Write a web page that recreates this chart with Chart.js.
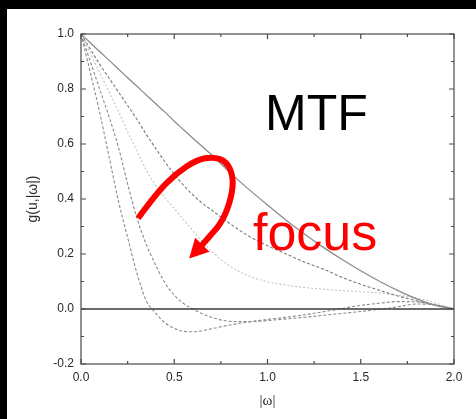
<!DOCTYPE html>
<html><head><meta charset="utf-8">
<script src="https://cdn.jsdelivr.net/npm/chart.js@4/dist/chart.umd.min.js"></script>
<style>
html,body{margin:0;padding:0;background:#000;width:476px;height:419px;overflow:hidden}
#wrap{position:absolute;left:7px;top:9px;width:469px;height:410px;background:#fff}
canvas{display:block}
</style></head>
<body><div id="wrap"><canvas id="c" width="469" height="410"></canvas></div>
<script>
// ---- data ----
const omega = [0,0.05,0.1,0.15,0.2,0.25,0.3,0.35,0.4,0.45,0.5,0.55,0.6,0.65,0.7,0.8,0.9,1.0,1.1,1.2,1.3,1.4,1.5,1.6,1.7,1.8,1.9,2.0];
const inFocus  = [1,0.968,0.936,0.905,0.873,0.841,0.810,0.778,0.747,0.716,0.683,0.652,0.621,0.591,0.561,0.495,0.435,0.378,0.323,0.272,0.224,0.18,0.139,0.101,0.067,0.037,0.013,0];
const defocus1 = [1,0.945,0.89,0.84,0.79,0.74,0.69,0.635,0.585,0.535,0.49,0.45,0.415,0.385,0.36,0.31,0.265,0.23,0.2,0.17,0.145,0.115,0.09,0.068,0.047,0.03,0.014,0];
const defocus2 = [1,0.93,0.86,0.79,0.72,0.645,0.575,0.505,0.45,0.405,0.365,0.325,0.285,0.245,0.21,0.155,0.12,0.099,0.087,0.078,0.072,0.067,0.063,0.058,0.05,0.04,0.022,0];
const defocus3 = [1,0.9,0.8,0.7,0.59,0.455,0.33,0.235,0.16,0.095,0.05,0.02,0,-0.017,-0.03,-0.045,-0.046,-0.042,-0.036,-0.03,-0.023,-0.016,-0.009,-0.001,0.008,0.018,0.015,0];
const defocus4 = [1,0.86,0.715,0.555,0.395,0.26,0.13,0.03,-0.015,-0.05,-0.07,-0.081,-0.083,-0.079,-0.072,-0.058,-0.047,-0.038,-0.03,-0.021,-0.01,0.002,0.013,0.021,0.027,0.026,0.015,0];
const zeroX = [0,2];
const zeroY = [0,0];
const xMajorTicks = [0,0.5,1.0,1.5,2.0];
const xMinorTicks = [0.25,0.75,1.25,1.75];
const yMajorTicks = [-0.2,0,0.2,0.4,0.6,0.8,1.0];
const yMinorTicks = [-0.1,0.1,0.3,0.5,0.7,0.9];
// annotation arrow path in data units (omega, g)
const arrowX = [0.306,0.405,0.512,0.620,0.709,0.781,0.817,0.808,0.763,0.692];
const arrowY = [0.330,0.421,0.494,0.542,0.554,0.536,0.481,0.409,0.324,0.263];
const arrowTip = [0.580,0.184];

const pts = (xs, ys) => xs.map((x,i)=>({x, y: ys[i]}));
const fmt = v => (Math.abs(v) < 1e-9 ? 0 : v).toFixed(1);

const frameAndNotes = {
  id:'frameAndNotes',
  afterDraw(chart){
    const {ctx, chartArea:a, scales:{x, y}} = chart;
    ctx.save();
    ctx.strokeStyle = '#4a4a4a'; ctx.lineWidth = 1.2;
    ctx.strokeRect(a.left, a.top, a.right-a.left, a.bottom-a.top);
    ctx.beginPath();
    const tx = (v,len)=>{const p=x.getPixelForValue(v); ctx.moveTo(p,a.bottom); ctx.lineTo(p,a.bottom-len); ctx.moveTo(p,a.top); ctx.lineTo(p,a.top+len);};
    const ty = (v,len)=>{const p=y.getPixelForValue(v); ctx.moveTo(a.left,p); ctx.lineTo(a.left+len,p); ctx.moveTo(a.right,p); ctx.lineTo(a.right-len,p);};
    xMajorTicks.forEach(v=>tx(v,5)); xMinorTicks.forEach(v=>tx(v,3));
    yMajorTicks.forEach(v=>ty(v,5)); yMinorTicks.forEach(v=>ty(v,3));
    ctx.stroke();
    // red arrow
    const P = arrowX.map((v,i)=>[x.getPixelForValue(v), y.getPixelForValue(arrowY[i])]);
    ctx.strokeStyle = '#ff0000'; ctx.fillStyle = '#ff0000';
    ctx.lineWidth = 6; ctx.lineCap = 'butt'; ctx.lineJoin = 'round';
    ctx.beginPath();
    ctx.moveTo(P[0][0], P[0][1]);
    for (let i=1;i<P.length-1;i++){
      const mx=(P[i][0]+P[i+1][0])/2, my=(P[i][1]+P[i+1][1])/2;
      ctx.quadraticCurveTo(P[i][0], P[i][1], mx, my);
    }
    const tip = [x.getPixelForValue(arrowTip[0]), y.getPixelForValue(arrowTip[1])];
    const last = P[P.length-1];
    let dx = tip[0]-last[0], dy = tip[1]-last[1]; const L = Math.hypot(dx,dy); dx/=L; dy/=L;
    const base = [tip[0]-19*dx, tip[1]-19*dy];
    ctx.lineTo(base[0]+2*dx, base[1]+2*dy);
    ctx.stroke();
    ctx.beginPath();
    ctx.moveTo(tip[0], tip[1]);
    ctx.lineTo(base[0]+10*dy, base[1]-10*dx);
    ctx.lineTo(base[0]-10*dy, base[1]+10*dx);
    ctx.closePath(); ctx.fill();
    // text notes
    ctx.textBaseline = 'alphabetic'; ctx.textAlign = 'left';
    ctx.fillStyle = '#000';
    ctx.font = '50px "Liberation Sans", Arial, sans-serif';
    ctx.fillText('MTF', x.getPixelForValue(0.987), y.getPixelForValue(0.651));
    ctx.fillStyle = '#ff0000';
    ctx.font = '52px "Liberation Sans", Arial, sans-serif';
    ctx.fillText('focus', x.getPixelForValue(0.922), y.getPixelForValue(0.215));
    ctx.restore();
  }
};

const tickFont = {family:'"Liberation Sans", Arial, sans-serif', size:12};
const lineBase = {pointRadius:0, cubicInterpolationMode:'monotone'};
new Chart(document.getElementById('c'), {
  type:'line',
  data:{datasets:[
    {data:pts(zeroX,zeroY), borderColor:'#3a3a3a', borderWidth:1.6, pointRadius:0, tension:0},
    {...lineBase, data:pts(omega,inFocus), borderColor:'#8c8c8c', borderWidth:1.3},
    {...lineBase, data:pts(omega,defocus1), borderColor:'#7a7a7a', borderWidth:1.1, borderDash:[3,2]},
    {...lineBase, data:pts(omega,defocus2), borderColor:'#c4c4c4', borderWidth:1.1, borderDash:[2,2]},
    {...lineBase, data:pts(omega,defocus3), borderColor:'#8a8a8a', borderWidth:1.1, borderDash:[3,2]},
    {...lineBase, data:pts(omega,defocus4), borderColor:'#8a8a8a', borderWidth:1.1, borderDash:[3,2]}
  ]},
  options:{
    responsive:false, animation:false,
    layout:{padding:{left:0,right:22,top:25,bottom:0}},
    plugins:{legend:{display:false}, tooltip:{enabled:false}},
    scales:{
      x:{type:'linear', min:0, max:2,
        grid:{display:false, drawTicks:false}, border:{display:false},
        ticks:{stepSize:0.5, padding:6, color:'#2a2a2a', font:tickFont, maxRotation:0, callback:fmt},
        title:{display:true, text:'|ω|', color:'#2a2a2a', font:{family:'"Liberation Serif", "Times New Roman", serif', size:15}, padding:{top:0,bottom:9}},
        afterFit(s){ s.height = 55; }
      },
      y:{type:'linear', min:-0.2, max:1.0,
        grid:{display:false, drawTicks:false}, border:{display:false},
        ticks:{stepSize:0.2, padding:7, color:'#2a2a2a', font:tickFont, callback:fmt},
        title:{display:true, text:'g(u,|ω|)', color:'#2a2a2a', font:{family:'"Liberation Sans", Arial, sans-serif', size:14}, padding:{top:18,bottom:0}},
        afterFit(s){ s.width = 74; }
      }
    }
  },
  plugins:[frameAndNotes]
});
</script>
</body></html>
